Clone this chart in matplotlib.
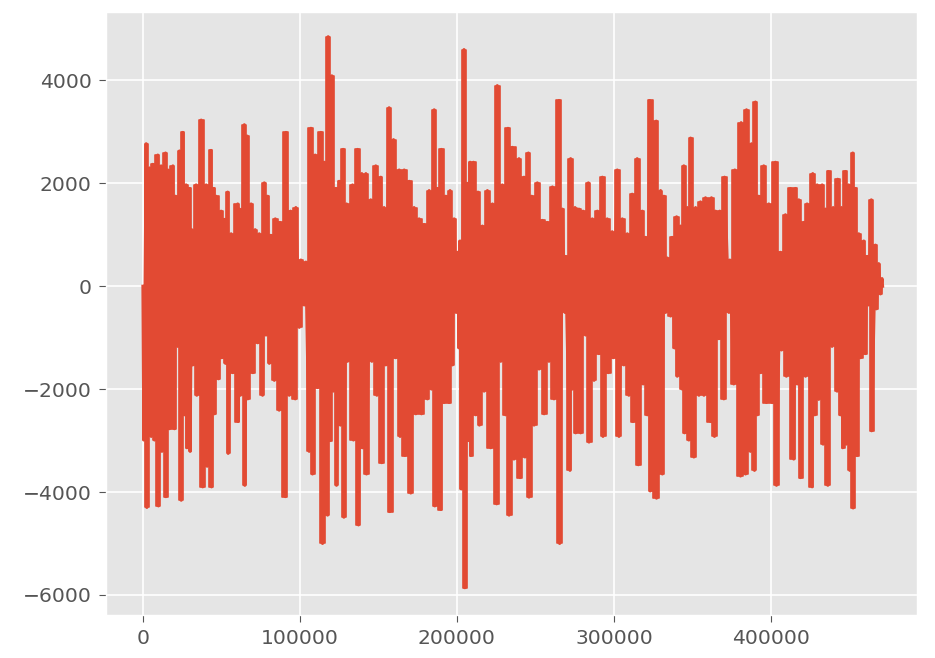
import numpy as np
import matplotlib
matplotlib.use("Agg")
import matplotlib.pyplot as plt

# Waveform peaks: x in thousands of samples, alternating high / low amplitude
peak_x_k = [
    0.0, 0.6, 2.1, 2.5, 4.2, 5.3, 6.3, 7.4, 9.5, 9.9, 11.6, 12.1, 14.4, 14.6, 15.9, 16.9, 19.1, 20.1, 20.8, 22.2,
    23.3, 24.4, 25.4, 26.5, 27.5, 28.0, 29.7, 30.1, 31.1, 31.8, 33.9, 34.3, 37.1, 38.1, 40.3, 40.9, 43.4, 43.7,
    45.1, 45.6, 46.6, 48.1, 49.8, 50.2, 52.0, 52.6, 54.0, 54.3, 56.2, 57.2, 60.4, 60.6, 61.5, 62.1, 64.6, 64.9,
    66.3, 66.8, 68.9, 70.0, 71.5, 73.1, 74.1, 76.2, 77.3, 78.4, 79.4, 80.5, 81.5, 83.7, 84.3, 86.8, 87.3, 90.7,
    91.1, 93.2, 94.0, 97.0, 97.4, 99.6, 100.6, 102.7, 103.8, 105.9, 107.0, 108.0, 109.7, 111.2, 113.3, 114.4,
    115.5, 117.6, 118.0, 119.1, 120.3, 121.2, 122.9, 123.3, 125.0, 125.8, 127.5, 128.0, 129.7, 130.3, 133.5,
    134.1, 136.7, 137.3, 139.4, 139.8, 142.0, 142.4, 145.1, 145.8, 148.3, 149.0, 151.5, 152.1, 153.6, 154.7,
    156.8, 157.2,
    159.6, 160.9, 163.2, 163.8, 166.4, 166.8, 169.6, 170.6, 172.7, 173.8, 175.9, 177.4, 179.1, 181.2, 182.3,
    183.8, 185.5, 185.9, 187.6, 189.7, 190.1, 191.8, 192.9, 195.0, 195.6, 197.1, 198.2, 199.5, 200.3, 201.4,
    202.0, 202.8, 204.5, 205.0, 206.7, 207.7, 208.4, 208.8, 210.5, 212.0, 213.4, 214.3, 216.2, 217.3, 219.4,
    221.5, 222.6, 225.3, 225.7, 227.9, 228.9, 231.0, 232.5, 233.2, 235.3, 236.3, 239.5, 240.2, 242.7, 243.3,
    245.5, 245.9, 247.6, 249.1, 251.2, 252.3, 254.4, 255.5, 257.6, 258.6, 260.8, 261.8, 265.0, 265.4, 267.1,
    268.8, 269.2, 272.0, 272.4, 273.5, 275.2, 275.6, 277.7, 278.8, 280.3, 282.0, 283.7, 284.1, 286.2, 287.3,
    289.4, 290.4, 292.6, 293.0, 295.7, 296.4, 298.9, 299.6, 302.1, 303.2, 305.3, 306.3, 308.5, 309.5, 311.6,
    312.1, 314.8, 315.5, 318.0, 318.6, 320.1, 321.2, 322.7, 323.1, 326.9, 327.1,
    329.7, 330.8, 331.8, 332.9, 333.9, 336.1, 337.1, 338.6, 339.9, 340.3, 342.4, 343.5, 344.5, 345.0, 346.7,
    347.7, 348.8, 350.9, 352.0, 354.1, 355.1, 357.3, 358.3, 361.5, 362.1, 364.0, 364.7, 366.8, 367.4, 370.0,
    370.4, 373.2, 373.8, 376.3, 377.0, 380.6, 381.0, 383.8, 384.4, 386.9, 387.6, 389.5, 390.1, 391.2, 392.2,
    393.3, 395.4, 397.1, 398.6, 400.7, 402.8, 403.5, 406.0, 406.7, 409.2, 409.8, 412.4, 414.5,
    415.6, 416.7, 417.7, 418.8, 420.9, 422.0, 423.0, 426.2, 426.6, 427.9, 429.4, 430.4, 432.6, 433.2, 434.7,
    436.2, 436.6, 438.9, 439.6, 442.1, 442.5, 444.2, 444.9, 445.7, 447.4, 448.0, 449.5, 450.2, 452.1, 452.3,
    453.8, 454.8, 455.9, 457.0, 459.1, 460.1, 461.2, 462.2, 463.9, 464.1, 466.5, 467.1, 468.6, 469.7, 470.7,
    471.1,
]
peak_y = [
    0, -2990, 2770, -4300, 2300, -2920, 2370, -2990, 2550, -4270, 2340, -3210, 2590, -4090, 2260, -2770, 2340,
    -2770, 1750, -1170, 2630, -4160, 2990, -2500, 1970, -3140, 1900, -3210, 1100, -1530, 1970, -2120, 3230,
    -3900, 1970, -3500, 2640, -3900, 1900, -2480, 1750, -1800, 1460, -1390, 1300, -1500, 1830, -3250, 1020,
    -1680, 1600, -2630, 1500, -2120, 3140, -3870, 2920, -2190, 1600, -1680, 1100, -1100, 1020, -2120, 2010,
    -950, 1750, -1500, 990, -1830, 1310, -2410, 1240, -4090, 2990, -2120, 1460, -2190, 1530, -800, 510, -365,
    470, -3210, 3070, -3650, 2550, -1970, 2990, -5000, 2410, -4450, 4850, -3000, 4090, -2040, 1900, -3870,
    2040, -2700, 2660, -4490, 1600, -1460, 1970, -2990, 2660, -4640, 2190, -3140, 2190, -3650, 1680, -1460,
    2340, -2120, 2120, -3430, 1530, -1530, 3470, -4380,
    2850, -1390, 2260, -2920, 2260, -3290, 2040, -4020, 1530, -2480, 1310, -2480, 1200, -2190, 1860, -2000,
    3430, -4270, 1900, -4340, 2660, -2260, 1750, -2260, 1860, -1530, 1310, -510, 660, -1200, 880, -3940,
    4600, -5860, 2000, -3000, 2410, -3290, 2410, -2500, 1830, -2700, 1170, -2040, 1860, -3140, 1600, -4230,
    3900, -1460, 1970, -2500, 3070, -4450, 2700, -3360, 2480, -3720, 2120, -3320,
    2590, -4100, 1750, -2700, 2010, -1610, 1280, -2480, 1240, -1460, 1930, -2190, 3610, -5000, 1500, -510,
    580, -3580, 2480, -2000, 1530, -2850, 1500, -2850, 1460, -950, 2010, -3030, 1310, -1830, 1460, -1310,
    2120, -2920, 1310, -1680, 1060, -1390, 2260, -2920, 1310, -1530, 1020, -2120, 1790, -2630, 2480, -3470,
    1460, -1900, 950, -2500, 3610, -3980, 3210, -4120,
    1860, -3650, 1750, -510, 550, -580, 950, -1200, 1350, -1750, 1170, -2000, 2340, -2850, 1530, -2990, 2880,
    -3320, 1530, -2120, 1640, -2120, 1720, -2630, 1720, -2920, 1460, -1020, 1460, -2190, 2120, -510, 510,
    -1900, 2260, -3690, 3180, -3650, 3430, -3210, 2770, -3580, 3580, -2500, 1750, -1680, 2340, -2260, 1600,
    -2260, 2410, -3870, 660, -1240, 1390, -1750, 1900, -3360,
    1900, -1900, 1680, -3720, 1240, -1750, 1600, -3900, 2190, -2500, 1970, -2200, 1970, -3070, 1500, -3870,
    2230, -1170, 1530, -2040, 2080, -2500, 1530, -3140, 2230, -3070, 1970, -3580, 2590, -4310, 1900, -3290,
    1020, -1390, 880, -1310, 580, -365, 1680, -2810, 800, -440, 440, -150, 150, 0,
]

plt.style.use("ggplot")
S = 1.46
plt.rcParams.update({
    "font.family": ["DejaVu Sans"],
    "xtick.labelsize": 10 * S,
    "ytick.labelsize": 10 * S,
    "xtick.major.size": 3.5 * S,
    "ytick.major.size": 3.5 * S,
    "xtick.major.pad": 3.5 * S,
    "ytick.major.pad": 3.5 * S,
    "grid.linewidth": 0.8 * S,
})

fig = plt.figure(figsize=(9.35, 6.58), dpi=100)
ax = fig.add_axes([106 / 935, 1 - 615 / 658, (917 - 106) / 935, (615 - 12) / 658])

x = np.array(peak_x_k) * 1000.0
y = np.array(peak_y, dtype=float)
color = "#E24A33"

# dense oscillation body: each peak is drawn as a vertical bar reaching its amplitude
up = y >= 0
lo = y <= 0
ax.fill_between(x[up], 0, y[up], step="mid", color=color, linewidth=1.2, edgecolor=color)
ax.fill_between(x[lo], y[lo], 0, step="mid", color=color, linewidth=1.2, edgecolor=color)
ax.plot(x, y, color=color, linewidth=2.2)

ax.set_xlim(-23500, 493000)
ax.set_ylim(-6390, 5330)
ax.set_xticks([0, 100000, 200000, 300000, 400000])
ax.set_yticks([-6000, -4000, -2000, 0, 2000, 4000])

fig.savefig("out.png", dpi=100)
